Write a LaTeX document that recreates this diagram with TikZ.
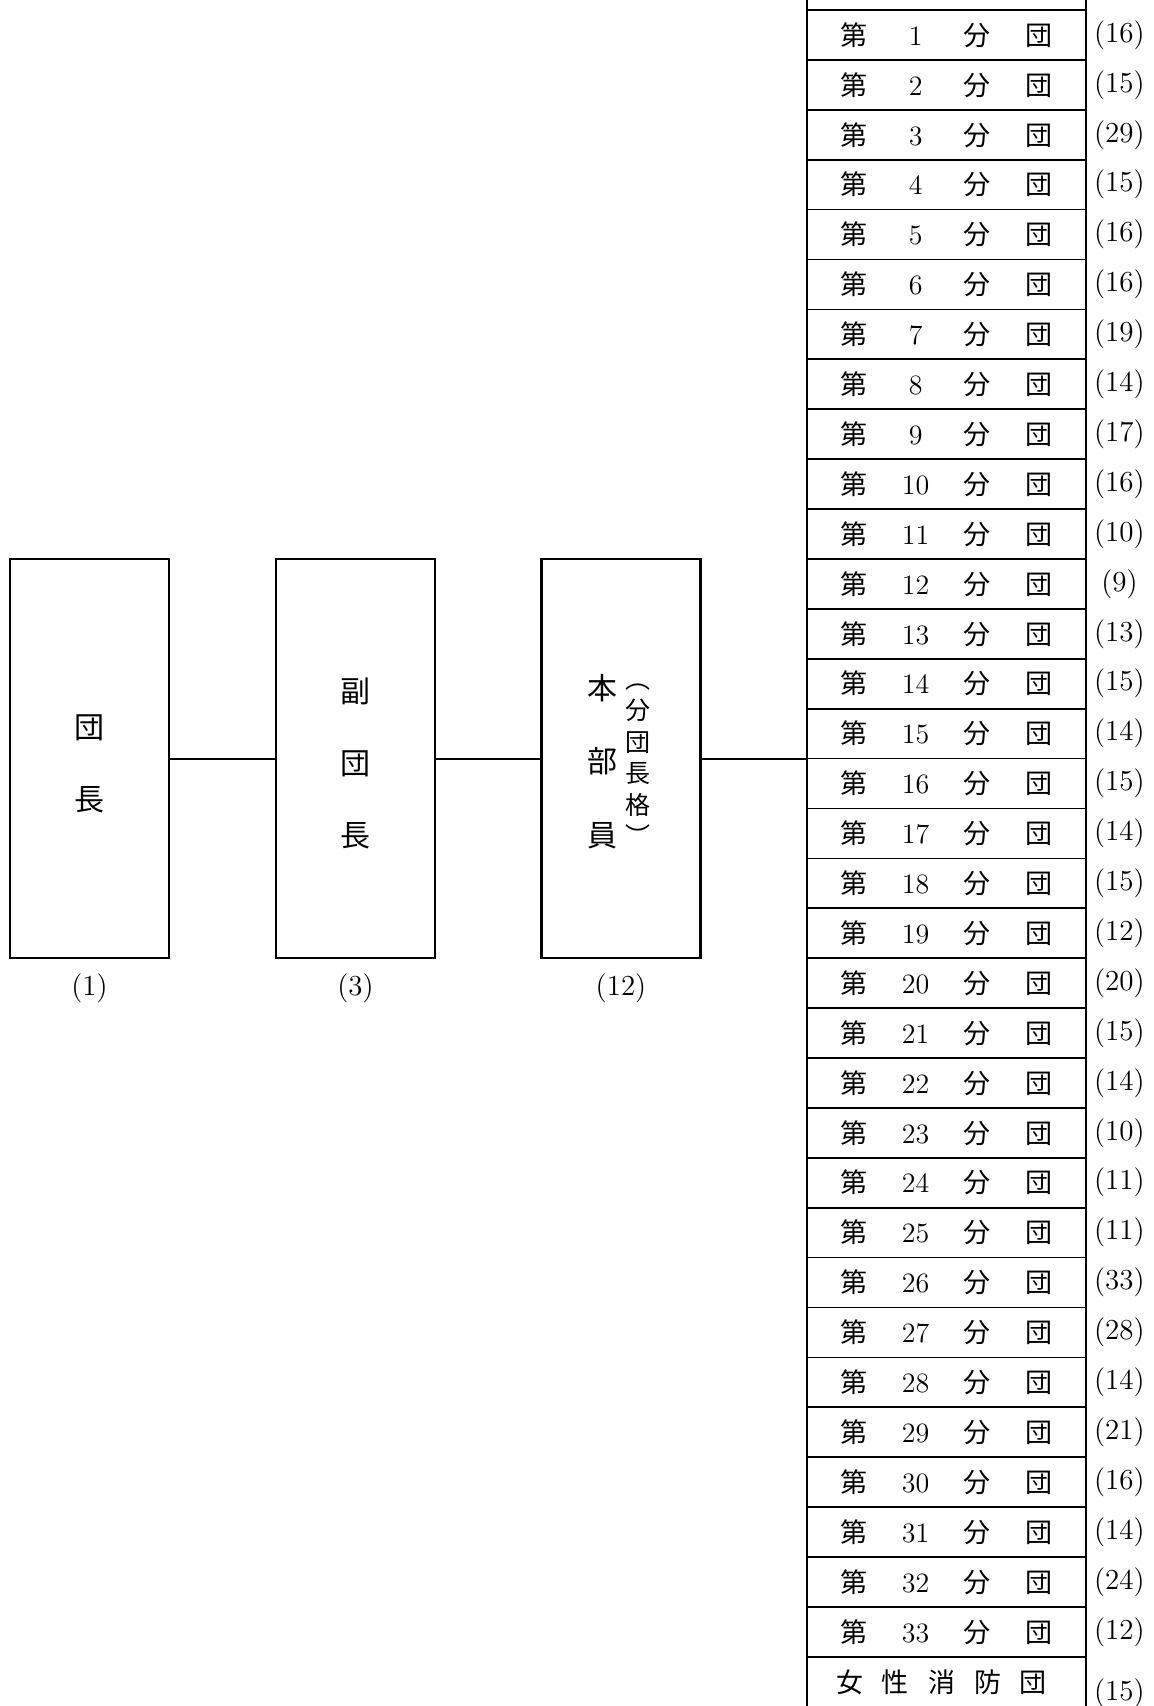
\documentclass[tikz,border=0pt]{standalone}
\usepackage{fontspec}
\usepackage{tikz}
\usetikzlibrary{positioning}
\newfontfamily\jpfont{Noto Sans CJK JP}

\newcommand{\bundan}[1]{\makebox[30.85pt]{第}\makebox[30.85pt]{\rmfamily\fontsize{14}{17}\selectfont #1}\makebox[30.85pt]{分}\makebox[30.85pt]{団}}

\begin{document}
\begin{tikzpicture}[x=0.5pt, y=-0.5pt,
  post/.style={draw, line width=1.25pt, minimum width=79.5pt, minimum height=199.5pt, inner sep=0pt, outer sep=0pt},
  posttext/.style={inner sep=0pt, align=center, font=\jpfont\fontsize{15}{36}\selectfont},
  vtext/.style={inner sep=0pt, align=center, font=\jpfont\fontsize{12.5}{15.75}\selectfont},
  bunbox/.style={draw, line width=0.85pt, minimum width=139.5pt, minimum height=24.95pt, inner sep=0pt, outer sep=0pt, font=\jpfont\fontsize{13.5}{16}\selectfont},
  count/.style={inner sep=0pt, minimum width=26pt, font=\fontsize{14.5}{17}\selectfont},
  link/.style={line width=1pt},
  tblrule/.style={line width=1.35pt}]

\useasboundingbox (0,0) rectangle (1153,1706);

% Define the three posts on the left
\node[post] (dancho) at (89.5,758.5) {};
\node[post] (fukudancho) at (355.5,758.5) {};
\node[post] (honbu) at (621,758.5) {};
\node[posttext] (dancho-t) at ([yshift=-2.5pt]dancho.center) {団\\長};
\node[posttext] (fukudancho-t) at ([yshift=-2.5pt]fukudancho.center) {副\\団\\長};
\node[posttext, font=\jpfont\fontsize{15}{36.75}\selectfont] (honbu-t) at ([xshift=-9.5pt, yshift=-1.5pt]honbu.center) {本\\部\\員};
\node[vtext] (honbu-note) at ([xshift=8.5pt, yshift=-3pt]honbu.center) {︵\\分\\団\\長\\格\\︶};

% Numbers under the posts
\node[count, below=7.75pt of dancho] (dancho-n) {(1)};
\node[count, below=7.75pt of fukudancho] (fukudancho-n) {(3)};
\node[count, below=7.75pt of honbu] (honbu-n) {(12)};

% Define the branch rows
\node[bunbox] (b1) at (946.5,35) {\bundan{1}};
\node[bunbox, below=0pt of b1] (b2) {\bundan{2}};
\node[bunbox, below=0pt of b2] (b3) {\bundan{3}};
\node[bunbox, below=0pt of b3] (b4) {\bundan{4}};
\node[bunbox, below=0pt of b4] (b5) {\bundan{5}};
\node[bunbox, below=0pt of b5] (b6) {\bundan{6}};
\node[bunbox, below=0pt of b6] (b7) {\bundan{7}};
\node[bunbox, below=0pt of b7] (b8) {\bundan{8}};
\node[bunbox, below=0pt of b8] (b9) {\bundan{9}};
\node[bunbox, below=0pt of b9] (b10) {\bundan{10}};
\node[bunbox, below=0pt of b10] (b11) {\bundan{11}};
\node[bunbox, below=0pt of b11] (b12) {\bundan{12}};
\node[bunbox, below=0pt of b12] (b13) {\bundan{13}};
\node[bunbox, below=0pt of b13] (b14) {\bundan{14}};
\node[bunbox, below=0pt of b14] (b15) {\bundan{15}};
\node[bunbox, below=0pt of b15] (b16) {\bundan{16}};
\node[bunbox, below=0pt of b16] (b17) {\bundan{17}};
\node[bunbox, below=0pt of b17] (b18) {\bundan{18}};
\node[bunbox, below=0pt of b18] (b19) {\bundan{19}};
\node[bunbox, below=0pt of b19] (b20) {\bundan{20}};
\node[bunbox, below=0pt of b20] (b21) {\bundan{21}};
\node[bunbox, below=0pt of b21] (b22) {\bundan{22}};
\node[bunbox, below=0pt of b22] (b23) {\bundan{23}};
\node[bunbox, below=0pt of b23] (b24) {\bundan{24}};
\node[bunbox, below=0pt of b24] (b25) {\bundan{25}};
\node[bunbox, below=0pt of b25] (b26) {\bundan{26}};
\node[bunbox, below=0pt of b26] (b27) {\bundan{27}};
\node[bunbox, below=0pt of b27] (b28) {\bundan{28}};
\node[bunbox, below=0pt of b28] (b29) {\bundan{29}};
\node[bunbox, below=0pt of b29] (b30) {\bundan{30}};
\node[bunbox, below=0pt of b30] (b31) {\bundan{31}};
\node[bunbox, below=0pt of b31] (b32) {\bundan{32}};
\node[bunbox, below=0pt of b32] (b33) {\bundan{33}};
\node[bunbox, below=0pt of b33, minimum height=26pt] (b34) {\makebox[23pt]{女}\makebox[23pt]{性}\makebox[23pt]{消}\makebox[23pt]{防}\makebox[23pt]{団}\hspace*{5pt}};

% Member counts beside the rows
\node[count, right=3.5pt of b1] (c1) {(16)};
\node[count, right=3.5pt of b2] (c2) {(15)};
\node[count, right=3.5pt of b3] (c3) {(29)};
\node[count, right=3.5pt of b4] (c4) {(15)};
\node[count, right=3.5pt of b5] (c5) {(16)};
\node[count, right=3.5pt of b6] (c6) {(16)};
\node[count, right=3.5pt of b7] (c7) {(19)};
\node[count, right=3.5pt of b8] (c8) {(14)};
\node[count, right=3.5pt of b9] (c9) {(17)};
\node[count, right=3.5pt of b10] (c10) {(16)};
\node[count, right=3.5pt of b11] (c11) {(10)};
\node[count, right=3.5pt of b12] (c12) {(9)};
\node[count, right=3.5pt of b13] (c13) {(13)};
\node[count, right=3.5pt of b14] (c14) {(15)};
\node[count, right=3.5pt of b15] (c15) {(14)};
\node[count, right=3.5pt of b16] (c16) {(15)};
\node[count, right=3.5pt of b17] (c17) {(14)};
\node[count, right=3.5pt of b18] (c18) {(15)};
\node[count, right=3.5pt of b19] (c19) {(12)};
\node[count, right=3.5pt of b20] (c20) {(20)};
\node[count, right=3.5pt of b21] (c21) {(15)};
\node[count, right=3.5pt of b22] (c22) {(14)};
\node[count, right=3.5pt of b23] (c23) {(10)};
\node[count, right=3.5pt of b24] (c24) {(11)};
\node[count, right=3.5pt of b25] (c25) {(11)};
\node[count, right=3.5pt of b26] (c26) {(33)};
\node[count, right=3.5pt of b27] (c27) {(28)};
\node[count, right=3.5pt of b28] (c28) {(14)};
\node[count, right=3.5pt of b29] (c29) {(21)};
\node[count, right=3.5pt of b30] (c30) {(16)};
\node[count, right=3.5pt of b31] (c31) {(14)};
\node[count, right=3.5pt of b32] (c32) {(24)};
\node[count, right=3.5pt of b33] (c33) {(12)};
\node[count, right=3.5pt of b34, yshift=-5pt] (c34) {(15)};

% Outer rules of the table
\draw[tblrule] ([yshift=5pt]b1.north west) -- (b34.south west);
\draw[tblrule] ([yshift=5pt]b1.north east) -- (b34.south east);
\draw[tblrule] (b1.north west) -- (b1.north east);

% Connect the posts
\draw[link] (dancho) -- (fukudancho);
\draw[link] (fukudancho) -- (honbu);
\draw[link] (honbu) -- (honbu -| b1.west);

\end{tikzpicture}
\end{document}
